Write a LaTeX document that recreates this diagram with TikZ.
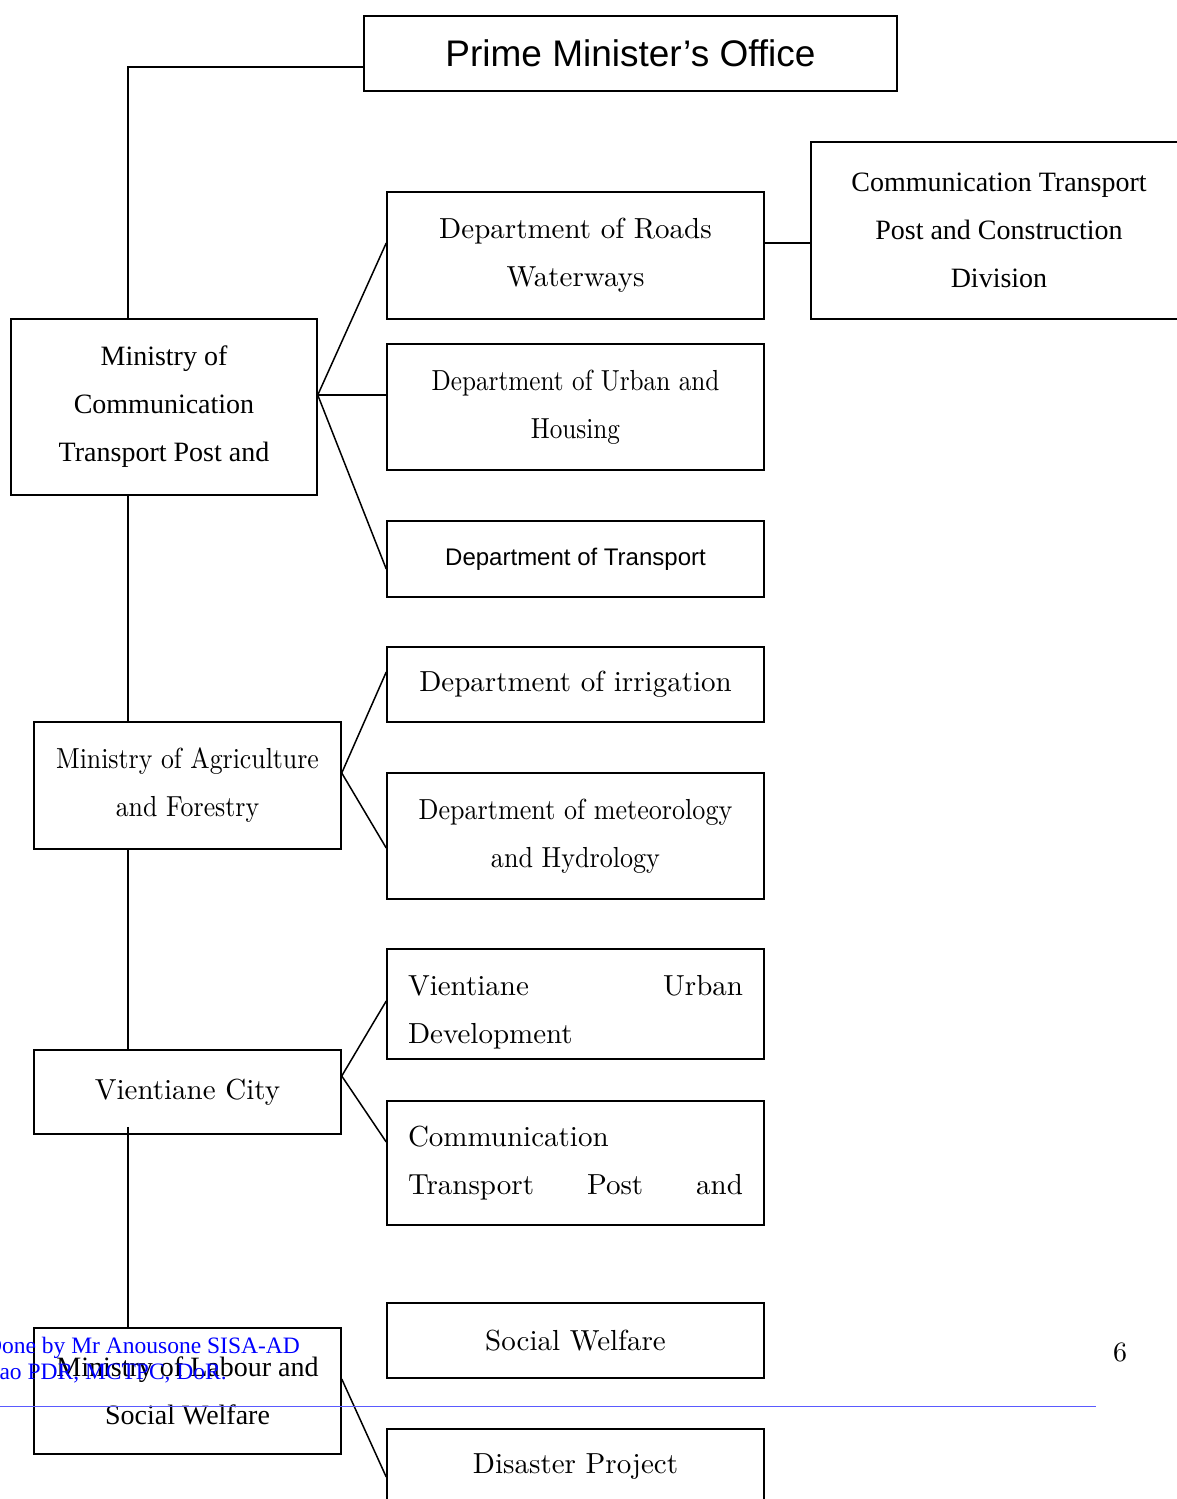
\documentclass[tikz,border=0pt]{standalone}
\usepackage{fontspec}
\newfontfamily\tnr{Liberation Serif}
\newfontfamily\arl{Liberation Sans}
\newfontfamily\cent[Extension=.otf]{lmroman10-regular}
\newfontfamily\centa[Extension=.otf, FakeStretch=0.87]{lmroman10-regular}
\newfontfamily\centb[Extension=.otf, FakeStretch=0.9]{lmroman10-regular}
\newfontfamily\centc[Extension=.otf, FakeStretch=0.89]{lmroman10-regular}
\usetikzlibrary{calc}
\begin{document}
\begin{tikzpicture}[x=1pt,y=-1pt,
  box/.style={draw, line width=1.5pt, inner sep=0pt, align=center},
  cen/.style={font=\cent\fontsize{29}{48}\selectfont},
  tms/.style={font=\tnr\fontsize{28}{48}\selectfont},
  ars/.style={font=\arl\fontsize{24}{30}\selectfont},
  conn/.style={line width=1.5pt},
  foot/.style={text=blue, font=\tnr\fontsize{23.5}{26}\selectfont, inner sep=0pt},
  wide/.style={minimum width=377pt},
  narrow/.style={minimum width=307pt}]
\useasboundingbox (0,0) rectangle (1176,1499);
% boxes
\node[box, font=\arl\fontsize{37}{40}\selectfont, minimum width=533pt, minimum height=75pt] (pm) at (630.5,53.5) {Prime Minister’s Office};
\node[box, tms, minimum width=306pt, minimum height=176pt] (mctpc) at (164,407) {Ministry of\\Communication\\Transport Post and};
\node[box, cen, wide, minimum height=127pt] (roads) at (575.5,255.5) {Department of Roads\\Waterways};
\node[box, tms, minimum width=376pt, minimum height=177pt] (div) at (999,230.5) {Communication Transport\\Post and Construction\\Division};
\node[box, font=\centa\fontsize{29}{48}\selectfont, wide, minimum height=126pt] (urban) at (575.5,407) {Department of Urban and\\Housing};
\node[box, ars, wide, minimum height=76pt] (trans) at (575.5,559) {Department of Transport};
\node[box, cen, wide, minimum height=75pt] (irr) at (575.5,684.5) {Department of irrigation};
\node[box, font=\centb\fontsize{29}{48}\selectfont, wide, minimum height=126pt] (met) at (575.5,836) {Department of meteorology\\and Hydrology};
\node[box, font=\centc\fontsize{29}{48}\selectfont, narrow, minimum height=127pt] (agri) at (187.5,785.5) {Ministry of Agriculture\\and Forestry};
\node[box, cen, narrow, minimum height=84pt] (vc) at (187.5,1092) {Vientiane City};
\node[draw, line width=1.5pt, inner sep=0pt, cen, align=left, text width=335pt, wide, minimum height=110pt] (vud) at (575.5,1004) {\rule{0pt}{36pt}Vientiane\hfill Urban\\Development};
\node[draw, line width=1.5pt, inner sep=0pt, cen, align=left, text width=335pt, wide, minimum height=124pt] (ctp) at (575.5,1163) {Communication\\Transport\hfill Post\hfill and};
\node[box, tms, narrow, minimum height=126pt] (lab) at (187.5,1391) {Ministry of Labour and\\Social Welfare};
\node[box, cen, wide, minimum height=75pt] (sw) at (575.5,1340.5) {Social Welfare};
\node[box, cen, wide, minimum height=76pt] (dis) at (575.5,1467) {Disaster Project};
% spine
\coordinate (spine) at (128,0);
\draw[conn] ([yshift=-13.5pt]pm.west) -| (spine |- mctpc.north);
\draw[conn] (spine |- mctpc.south) -- (spine |- agri.north);
\draw[conn] (spine |- agri.south) -- (spine |- vc.north);
\draw[conn] ($(spine |- vc.south)+(0,-8)$) -- (spine |- lab.north);
% fans
\draw[conn] ([yshift=12pt]mctpc.east) -- ([yshift=12.5pt]roads.west);
\draw[conn] ([yshift=12pt]mctpc.east) -- ([yshift=12pt]urban.west);
\draw[conn] ([yshift=12pt]mctpc.east) -- ([yshift=-10pt]trans.west);
\draw[conn] ([yshift=12.5pt]roads.east) -- ([yshift=12.5pt]roads.east -| div.west);
\draw[conn] ([yshift=12.5pt]agri.east) -- ([yshift=12.5pt]irr.west);
\draw[conn] ([yshift=12.5pt]agri.east) -- ([yshift=-12pt]met.west);
\draw[conn] ([yshift=16pt]vc.east) -- ([yshift=3pt]vud.west);
\draw[conn] ([yshift=16pt]vc.east) -- ([yshift=21pt]ctp.west);
\draw[conn] ([yshift=12pt]lab.east) -- ([yshift=-10pt]dis.west);
% footer
\node[foot, anchor=base west] (f1) at (-15,1353) {Done by Mr Anousone SISA-AD};
\node[foot, anchor=base west] (f2) at (-15,1379) {Lao PDR, MCTPC, DoR.};
\coordinate (hl) at (0,1406);
\coordinate (hr) at (1096,1406);
\draw[color={rgb,255:red,90;green,90;blue,255}, line width=1pt] (hl) -- (hr);
\node[font=\cent\fontsize{28}{30}\selectfont, anchor=base, inner sep=0pt] (pg) at (1120,1361) {6};
\end{tikzpicture}
\end{document}
